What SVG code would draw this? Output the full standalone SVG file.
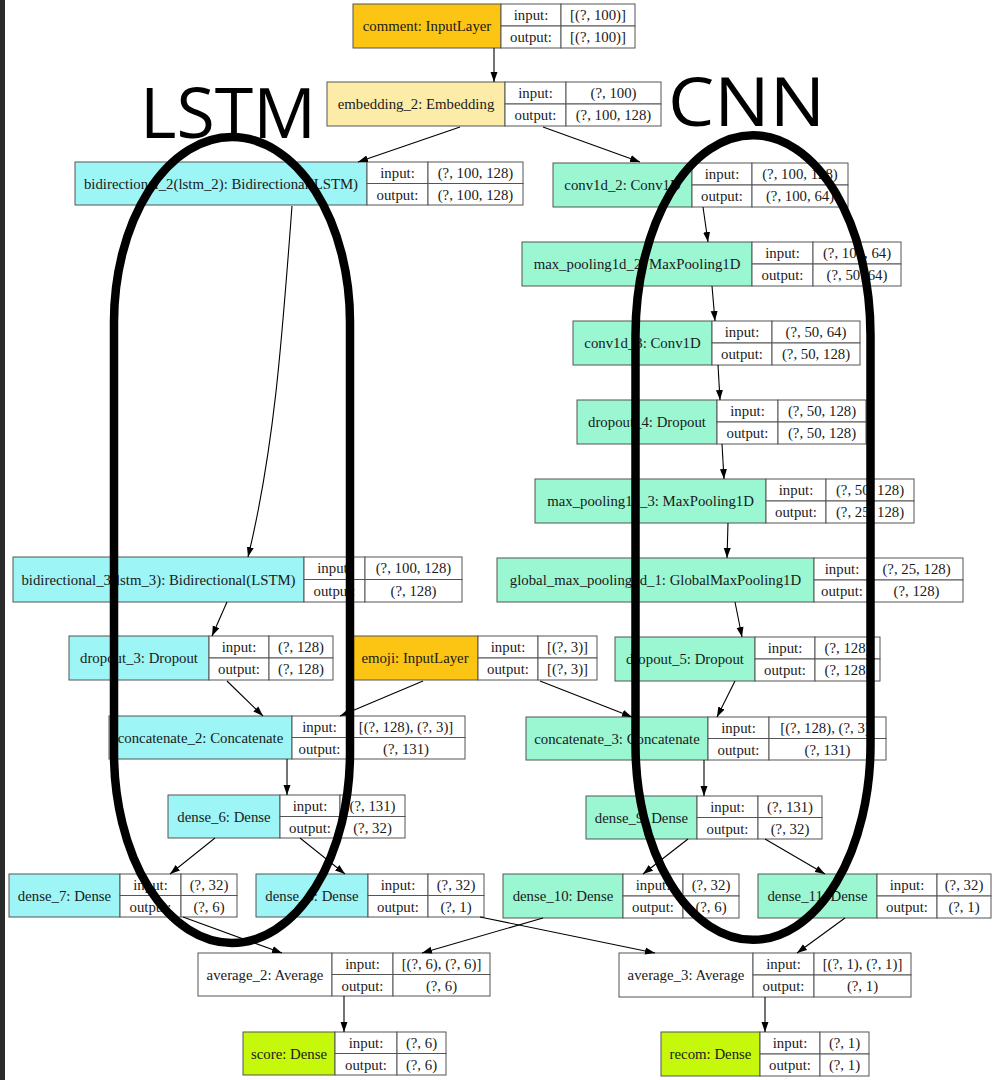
<svg xmlns="http://www.w3.org/2000/svg" width="992" height="1080" viewBox="0 0 992 1080">
<defs>
<marker id="ah" markerWidth="10" markerHeight="8" refX="10" refY="4" orient="auto" markerUnits="userSpaceOnUse"><path d="M0,0.5 L10,4 L0,7.5 Z" fill="#000"/></marker>
<style>
.c{stroke:#555;stroke-width:1}
.w{fill:#fff}
.cy{fill:#9df5f5}
.mi{fill:#9bf7d2}
.go{fill:#fdc513}
.ly{fill:#fdeca8}
.li{fill:#c6f80c}
.wh{fill:#fff}
text{font-family:"Liberation Serif","Times New Roman",serif;font-size:14.8px;fill:#1a1a1a;text-anchor:middle}
.big{font-family:"Open Sans","Noto Sans",sans-serif;font-size:70px;fill:#000;text-anchor:start}
.e{fill:none;stroke:#000;stroke-width:8.5}
.k{fill:none;stroke:#000;stroke-width:1.1}
</style>
</defs>
<rect x="0" y="0" width="992" height="1080" fill="#fff"/>
<rect x="0" y="0" width="5" height="1080" fill="#2b2b2b"/>

<g id="comment">
<rect class="c go" x="353" y="4" width="148" height="44"/><rect class="c w" x="501" y="4" width="60" height="22"/><rect class="c w" x="561" y="4" width="74" height="22"/><rect class="c w" x="501" y="26" width="60" height="22"/><rect class="c w" x="561" y="26" width="74" height="22"/>
<text x="427" y="31">comment: InputLayer</text><text x="531" y="20">input:</text><text x="598" y="20">[(?, 100)]</text><text x="531" y="42">output:</text><text x="598" y="42">[(?, 100)]</text>
</g>
<g id="embedding_2">
<rect class="c ly" x="327" y="82" width="178" height="44"/><rect class="c w" x="505" y="82" width="61" height="22"/><rect class="c w" x="566" y="82" width="95" height="22"/><rect class="c w" x="505" y="104" width="61" height="22"/><rect class="c w" x="566" y="104" width="95" height="22"/>
<text x="416" y="109">embedding_2: Embedding</text><text x="535.5" y="98">input:</text><text x="613.5" y="98">(?, 100)</text><text x="535.5" y="120">output:</text><text x="613.5" y="120">(?, 100, 128)</text>
</g>
<g id="bidirectional_2">
<rect class="c cy" x="75" y="162" width="292" height="43"/><rect class="c w" x="367" y="162" width="61" height="21.5"/><rect class="c w" x="428" y="162" width="95" height="21.5"/><rect class="c w" x="367" y="183.5" width="61" height="21.5"/><rect class="c w" x="428" y="183.5" width="95" height="21.5"/>
<text x="221" y="188.5">bidirectional_2(lstm_2): Bidirectional(LSTM)</text><text x="397.5" y="178">input:</text><text x="475.5" y="178">(?, 100, 128)</text><text x="397.5" y="199.5">output:</text><text x="475.5" y="199.5">(?, 100, 128)</text>
</g>
<g id="conv1d_2">
<rect class="c mi" x="553" y="163" width="139" height="44"/><rect class="c w" x="692" y="163" width="60" height="22"/><rect class="c w" x="752" y="163" width="96" height="22"/><rect class="c w" x="692" y="185" width="60" height="22"/><rect class="c w" x="752" y="185" width="96" height="22"/>
<text x="622.5" y="190">conv1d_2: Conv1D</text><text x="722" y="179">input:</text><text x="800" y="179">(?, 100, 128)</text><text x="722" y="201">output:</text><text x="800" y="201">(?, 100, 64)</text>
</g>
<g id="max_pooling1d_2">
<rect class="c mi" x="522" y="242" width="230" height="44"/><rect class="c w" x="752" y="242" width="61" height="22"/><rect class="c w" x="813" y="242" width="88" height="22"/><rect class="c w" x="752" y="264" width="61" height="22"/><rect class="c w" x="813" y="264" width="88" height="22"/>
<text x="637" y="269">max_pooling1d_2: MaxPooling1D</text><text x="782.5" y="258">input:</text><text x="857" y="258">(?, 100, 64)</text><text x="782.5" y="280">output:</text><text x="857" y="280">(?, 50, 64)</text>
</g>
<g id="conv1d_3">
<rect class="c mi" x="573" y="321" width="139" height="44"/><rect class="c w" x="712" y="321" width="60" height="22"/><rect class="c w" x="772" y="321" width="88" height="22"/><rect class="c w" x="712" y="343" width="60" height="22"/><rect class="c w" x="772" y="343" width="88" height="22"/>
<text x="642.5" y="348">conv1d_3: Conv1D</text><text x="742" y="337">input:</text><text x="816" y="337">(?, 50, 64)</text><text x="742" y="359">output:</text><text x="816" y="359">(?, 50, 128)</text>
</g>
<g id="dropout_4">
<rect class="c mi" x="577" y="400" width="140" height="44"/><rect class="c w" x="717" y="400" width="61" height="22"/><rect class="c w" x="778" y="400" width="88" height="22"/><rect class="c w" x="717" y="422" width="61" height="22"/><rect class="c w" x="778" y="422" width="88" height="22"/>
<text x="647" y="427">dropout_4: Dropout</text><text x="747.5" y="416">input:</text><text x="822" y="416">(?, 50, 128)</text><text x="747.5" y="438">output:</text><text x="822" y="438">(?, 50, 128)</text>
</g>
<g id="max_pooling1d_3">
<rect class="c mi" x="535" y="479" width="231" height="44"/><rect class="c w" x="766" y="479" width="60" height="22"/><rect class="c w" x="826" y="479" width="88" height="22"/><rect class="c w" x="766" y="501" width="60" height="22"/><rect class="c w" x="826" y="501" width="88" height="22"/>
<text x="650.5" y="506">max_pooling1d_3: MaxPooling1D</text><text x="796" y="495">input:</text><text x="870" y="495">(?, 50, 128)</text><text x="796" y="517">output:</text><text x="870" y="517">(?, 25, 128)</text>
</g>
<g id="bidirectional_3">
<rect class="c cy" x="13" y="557" width="291" height="45"/><rect class="c w" x="304" y="557" width="61" height="22.5"/><rect class="c w" x="365" y="557" width="97" height="22.5"/><rect class="c w" x="304" y="579.5" width="61" height="22.5"/><rect class="c w" x="365" y="579.5" width="97" height="22.5"/>
<text x="158.5" y="584.5">bidirectional_3(lstm_3): Bidirectional(LSTM)</text><text x="334.5" y="573">input:</text><text x="413.5" y="573">(?, 100, 128)</text><text x="334.5" y="595.5">output:</text><text x="413.5" y="595.5">(?, 128)</text>
</g>
<g id="global_max_pooling1d_1">
<rect class="c mi" x="497" y="558" width="317" height="44"/><rect class="c w" x="814" y="558" width="56" height="22"/><rect class="c w" x="870" y="558" width="93" height="22"/><rect class="c w" x="814" y="580" width="56" height="22"/><rect class="c w" x="870" y="580" width="93" height="22"/>
<text x="655.5" y="585">global_max_pooling1d_1: GlobalMaxPooling1D</text><text x="842" y="574">input:</text><text x="916.5" y="574">(?, 25, 128)</text><text x="842" y="596">output:</text><text x="916.5" y="596">(?, 128)</text>
</g>
<g id="dropout_3">
<rect class="c cy" x="69" y="636" width="140" height="44"/><rect class="c w" x="209" y="636" width="60" height="22"/><rect class="c w" x="269" y="636" width="64" height="22"/><rect class="c w" x="209" y="658" width="60" height="22"/><rect class="c w" x="269" y="658" width="64" height="22"/>
<text x="139" y="663">dropout_3: Dropout</text><text x="239" y="652">input:</text><text x="301" y="652">(?, 128)</text><text x="239" y="674">output:</text><text x="301" y="674">(?, 128)</text>
</g>
<g id="emoji">
<rect class="c go" x="352" y="636" width="126" height="44"/><rect class="c w" x="478" y="636" width="60" height="22"/><rect class="c w" x="538" y="636" width="59" height="22"/><rect class="c w" x="478" y="658" width="60" height="22"/><rect class="c w" x="538" y="658" width="59" height="22"/>
<text x="415" y="663">emoji: InputLayer</text><text x="508" y="652">input:</text><text x="567.5" y="652">[(?, 3)]</text><text x="508" y="674">output:</text><text x="567.5" y="674">[(?, 3)]</text>
</g>
<g id="dropout_5">
<rect class="c mi" x="615" y="637" width="140" height="44"/><rect class="c w" x="755" y="637" width="60" height="22"/><rect class="c w" x="815" y="637" width="65" height="22"/><rect class="c w" x="755" y="659" width="60" height="22"/><rect class="c w" x="815" y="659" width="65" height="22"/>
<text x="685" y="664">dropout_5: Dropout</text><text x="785" y="653">input:</text><text x="847.5" y="653">(?, 128)</text><text x="785" y="675">output:</text><text x="847.5" y="675">(?, 128)</text>
</g>
<g id="concatenate_2">
<rect class="c cy" x="109" y="716" width="183" height="43"/><rect class="c w" x="292" y="716" width="55" height="21.5"/><rect class="c w" x="347" y="716" width="118" height="21.5"/><rect class="c w" x="292" y="737.5" width="55" height="21.5"/><rect class="c w" x="347" y="737.5" width="118" height="21.5"/>
<text x="200.5" y="742.5">concatenate_2: Concatenate</text><text x="319.5" y="732">input:</text><text x="406" y="732">[(?, 128), (?, 3)]</text><text x="319.5" y="753.5">output:</text><text x="406" y="753.5">(?, 131)</text>
</g>
<g id="concatenate_3">
<rect class="c mi" x="526" y="717" width="182" height="43"/><rect class="c w" x="708" y="717" width="61" height="21.5"/><rect class="c w" x="769" y="717" width="117" height="21.5"/><rect class="c w" x="708" y="738.5" width="61" height="21.5"/><rect class="c w" x="769" y="738.5" width="117" height="21.5"/>
<text x="617" y="743.5">concatenate_3: Concatenate</text><text x="738.5" y="733">input:</text><text x="827.5" y="733">[(?, 128), (?, 3)]</text><text x="738.5" y="754.5">output:</text><text x="827.5" y="754.5">(?, 131)</text>
</g>
<g id="dense_6">
<rect class="c cy" x="168" y="795" width="112" height="43"/><rect class="c w" x="280" y="795" width="60" height="21.5"/><rect class="c w" x="340" y="795" width="65" height="21.5"/><rect class="c w" x="280" y="816.5" width="60" height="21.5"/><rect class="c w" x="340" y="816.5" width="65" height="21.5"/>
<text x="224" y="821.5">dense_6: Dense</text><text x="310" y="811">input:</text><text x="372.5" y="811">(?, 131)</text><text x="310" y="832.5">output:</text><text x="372.5" y="832.5">(?, 32)</text>
</g>
<g id="dense_9">
<rect class="c mi" x="586" y="796" width="111" height="43"/><rect class="c w" x="697" y="796" width="61" height="21.5"/><rect class="c w" x="758" y="796" width="64" height="21.5"/><rect class="c w" x="697" y="817.5" width="61" height="21.5"/><rect class="c w" x="758" y="817.5" width="64" height="21.5"/>
<text x="641.5" y="822.5">dense_9: Dense</text><text x="727.5" y="812">input:</text><text x="790" y="812">(?, 131)</text><text x="727.5" y="833.5">output:</text><text x="790" y="833.5">(?, 32)</text>
</g>
<g id="dense_7">
<rect class="c cy" x="9" y="874" width="111" height="43"/><rect class="c w" x="120" y="874" width="61" height="21.5"/><rect class="c w" x="181" y="874" width="56" height="21.5"/><rect class="c w" x="120" y="895.5" width="61" height="21.5"/><rect class="c w" x="181" y="895.5" width="56" height="21.5"/>
<text x="64.5" y="900.5">dense_7: Dense</text><text x="150.5" y="890">input:</text><text x="209" y="890">(?, 32)</text><text x="150.5" y="911.5">output:</text><text x="209" y="911.5">(?, 6)</text>
</g>
<g id="dense_8">
<rect class="c cy" x="256" y="874" width="112" height="43"/><rect class="c w" x="368" y="874" width="60" height="21.5"/><rect class="c w" x="428" y="874" width="56" height="21.5"/><rect class="c w" x="368" y="895.5" width="60" height="21.5"/><rect class="c w" x="428" y="895.5" width="56" height="21.5"/>
<text x="312" y="900.5">dense_8: Dense</text><text x="398" y="890">input:</text><text x="456" y="890">(?, 32)</text><text x="398" y="911.5">output:</text><text x="456" y="911.5">(?, 1)</text>
</g>
<g id="dense_10">
<rect class="c mi" x="503" y="874" width="120" height="44"/><rect class="c w" x="623" y="874" width="60" height="22"/><rect class="c w" x="683" y="874" width="56" height="22"/><rect class="c w" x="623" y="896" width="60" height="22"/><rect class="c w" x="683" y="896" width="56" height="22"/>
<text x="563" y="901">dense_10: Dense</text><text x="653" y="890">input:</text><text x="711" y="890">(?, 32)</text><text x="653" y="912">output:</text><text x="711" y="912">(?, 6)</text>
</g>
<g id="dense_11">
<rect class="c mi" x="758" y="874" width="119" height="44"/><rect class="c w" x="877" y="874" width="60" height="22"/><rect class="c w" x="937" y="874" width="54" height="22"/><rect class="c w" x="877" y="896" width="60" height="22"/><rect class="c w" x="937" y="896" width="54" height="22"/>
<text x="817.5" y="901">dense_11: Dense</text><text x="907" y="890">input:</text><text x="964" y="890">(?, 32)</text><text x="907" y="912">output:</text><text x="964" y="912">(?, 1)</text>
</g>
<g id="average_2">
<rect class="c wh" x="198" y="953" width="134" height="43"/><rect class="c w" x="332" y="953" width="61" height="21.5"/><rect class="c w" x="393" y="953" width="97" height="21.5"/><rect class="c w" x="332" y="974.5" width="61" height="21.5"/><rect class="c w" x="393" y="974.5" width="97" height="21.5"/>
<text x="265" y="979.5">average_2: Average</text><text x="362.5" y="969">input:</text><text x="441.5" y="969">[(?, 6), (?, 6)]</text><text x="362.5" y="990.5">output:</text><text x="441.5" y="990.5">(?, 6)</text>
</g>
<g id="average_3">
<rect class="c wh" x="619" y="953" width="134" height="44"/><rect class="c w" x="753" y="953" width="61" height="22"/><rect class="c w" x="814" y="953" width="97" height="22"/><rect class="c w" x="753" y="975" width="61" height="22"/><rect class="c w" x="814" y="975" width="97" height="22"/>
<text x="686" y="980">average_3: Average</text><text x="783.5" y="969">input:</text><text x="862.5" y="969">[(?, 1), (?, 1)]</text><text x="783.5" y="991">output:</text><text x="862.5" y="991">(?, 1)</text>
</g>
<g id="score">
<rect class="c li" x="243" y="1032" width="92" height="43"/><rect class="c w" x="335" y="1032" width="62" height="21.5"/><rect class="c w" x="397" y="1032" width="49" height="21.5"/><rect class="c w" x="335" y="1053.5" width="62" height="21.5"/><rect class="c w" x="397" y="1053.5" width="49" height="21.5"/>
<text x="289" y="1058.5">score: Dense</text><text x="366" y="1048">input:</text><text x="421.5" y="1048">(?, 6)</text><text x="366" y="1069.5">output:</text><text x="421.5" y="1069.5">(?, 6)</text>
</g>
<g id="recom">
<rect class="c li" x="661" y="1032" width="99" height="44"/><rect class="c w" x="760" y="1032" width="60" height="22"/><rect class="c w" x="820" y="1032" width="49" height="22"/><rect class="c w" x="760" y="1054" width="60" height="22"/><rect class="c w" x="820" y="1054" width="49" height="22"/>
<text x="710.5" y="1059">recom: Dense</text><text x="790" y="1048">input:</text><text x="844.5" y="1048">(?, 1)</text><text x="790" y="1070">output:</text><text x="844.5" y="1070">(?, 1)</text>
</g>

<g id="connectors">
<path class="k" marker-end="url(#ah)" d="M494,48 L494,82"/>
<path class="k" marker-end="url(#ah)" d="M460,127 L358,162"/>
<path class="k" marker-end="url(#ah)" d="M543,127 L640,162"/>
<path class="k" marker-end="url(#ah)" d="M292,206 C282,340 274,450 248,557"/>
<path class="k" marker-end="url(#ah)" d="M703,207 L708,242"/>
<path class="k" marker-end="url(#ah)" d="M712,286 L715,321"/>
<path class="k" marker-end="url(#ah)" d="M718,365 L720,400"/>
<path class="k" marker-end="url(#ah)" d="M722,444 L724,479"/>
<path class="k" marker-end="url(#ah)" d="M728,523 L727,558"/>
<path class="k" marker-end="url(#ah)" d="M227,602 L212,636"/>
<path class="k" marker-end="url(#ah)" d="M735,602 L742,637"/>
<path class="k" marker-end="url(#ah)" d="M227,681 L263,716"/>
<path class="k" marker-end="url(#ah)" d="M423,681 L340,716"/>
<path class="k" marker-end="url(#ah)" d="M540,681 L632,717"/>
<path class="k" marker-end="url(#ah)" d="M735,681 L717,717"/>
<path class="k" marker-end="url(#ah)" d="M287,759 L287,795"/>
<path class="k" marker-end="url(#ah)" d="M704,760 L704,796"/>
<path class="k" marker-end="url(#ah)" d="M215,838 L170,874"/>
<path class="k" marker-end="url(#ah)" d="M300,838 L345,874"/>
<path class="k" marker-end="url(#ah)" d="M688,839 L643,874"/>
<path class="k" marker-end="url(#ah)" d="M765,839 L825,874"/>
<path class="k" marker-end="url(#ah)" d="M183,917 L282,953"/>
<path class="k" marker-end="url(#ah)" d="M543,918 L422,953"/>
<path class="k" marker-end="url(#ah)" d="M480,917 L655,953"/>
<path class="k" marker-end="url(#ah)" d="M845,918 L797,953"/>
<path class="k" marker-end="url(#ah)" d="M344,996 L344,1032"/>
<path class="k" marker-end="url(#ah)" d="M765,997 L765,1032"/>
</g>

<g id="annotations">
<path class="e" d="M114,322 A118,185 0 0 1 350,322 L350,753 A118,190 0 0 1 114,753 Z"/>
<path class="e" d="M635.5,335 A117.5,200 0 0 1 870.5,335 L870.5,745 A117.5,195 0 0 1 635.5,745 Z"/>
<text class="big" x="140" y="138" textLength="176" lengthAdjust="spacingAndGlyphs">LSTM</text>
<text class="big" x="668" y="126" style="font-size:67px" textLength="157" lengthAdjust="spacingAndGlyphs">CNN</text>
</g>
</svg>
